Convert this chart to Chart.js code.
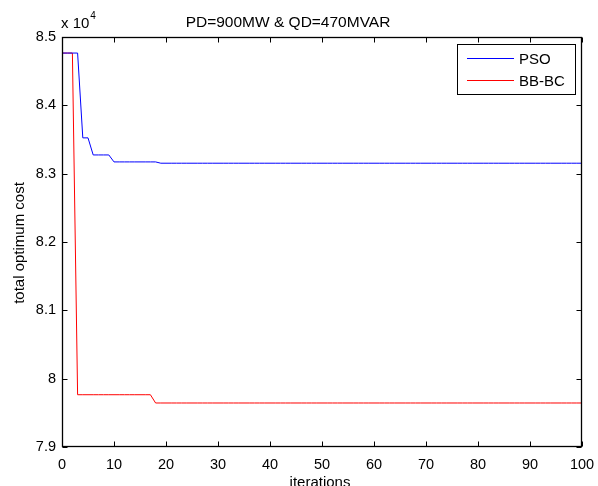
<!DOCTYPE html>
<html><head><meta charset="utf-8">
<script src="https://cdn.jsdelivr.net/npm/chart.js@4/dist/chart.umd.min.js"></script>
<style>html,body{margin:0;padding:0;background:#fff}canvas{display:block}</style>
</head><body>
<canvas id="c" width="598" height="486"></canvas>
<script>
const iterations = [
  0, 1, 2, 3, 4, 5, 6, 7, 8, 9,
  10, 11, 12, 13, 14, 15, 16, 17, 18, 19,
  20, 21, 22, 23, 24, 25, 26, 27, 28, 29,
  30, 31, 32, 33, 34, 35, 36, 37, 38, 39,
  40, 41, 42, 43, 44, 45, 46, 47, 48, 49,
  50, 51, 52, 53, 54, 55, 56, 57, 58, 59,
  60, 61, 62, 63, 64, 65, 66, 67, 68, 69,
  70, 71, 72, 73, 74, 75, 76, 77, 78, 79,
  80, 81, 82, 83, 84, 85, 86, 87, 88, 89,
  90, 91, 92, 93, 94, 95, 96, 97, 98, 99,
  100
];
// values in units of 10^4
const psoCost = [
  8.4765, 8.4765, 8.4765, 8.4765, 8.3524, 8.3524, 8.3274, 8.3274, 8.3274, 8.3274,
  8.3172, 8.3172, 8.3172, 8.3172, 8.3172, 8.3172, 8.3172, 8.3172, 8.3172, 8.3153,
  8.3153, 8.3153, 8.3153, 8.3153, 8.3153, 8.3153, 8.3153, 8.3153, 8.3153, 8.3153,
  8.3153, 8.3153, 8.3153, 8.3153, 8.3153, 8.3153, 8.3153, 8.3153, 8.3153, 8.3153,
  8.3153, 8.3153, 8.3153, 8.3153, 8.3153, 8.3153, 8.3153, 8.3153, 8.3153, 8.3153,
  8.3153, 8.3153, 8.3153, 8.3153, 8.3153, 8.3153, 8.3153, 8.3153, 8.3153, 8.3153,
  8.3153, 8.3153, 8.3153, 8.3153, 8.3153, 8.3153, 8.3153, 8.3153, 8.3153, 8.3153,
  8.3153, 8.3153, 8.3153, 8.3153, 8.3153, 8.3153, 8.3153, 8.3153, 8.3153, 8.3153,
  8.3153, 8.3153, 8.3153, 8.3153, 8.3153, 8.3153, 8.3153, 8.3153, 8.3153, 8.3153,
  8.3153, 8.3153, 8.3153, 8.3153, 8.3153, 8.3153, 8.3153, 8.3153, 8.3153, 8.3153,
  8.3153
];
const bbbcCost = [
  8.4765, 8.4765, 8.4765, 7.9765, 7.9765, 7.9765, 7.9765, 7.9765, 7.9765, 7.9765,
  7.9765, 7.9765, 7.9765, 7.9765, 7.9765, 7.9765, 7.9765, 7.9765, 7.9644, 7.9644,
  7.9644, 7.9644, 7.9644, 7.9644, 7.9644, 7.9644, 7.9644, 7.9644, 7.9644, 7.9644,
  7.9644, 7.9644, 7.9644, 7.9644, 7.9644, 7.9644, 7.9644, 7.9644, 7.9644, 7.9644,
  7.9644, 7.9644, 7.9644, 7.9644, 7.9644, 7.9644, 7.9644, 7.9644, 7.9644, 7.9644,
  7.9644, 7.9644, 7.9644, 7.9644, 7.9644, 7.9644, 7.9644, 7.9644, 7.9644, 7.9644,
  7.9644, 7.9644, 7.9644, 7.9644, 7.9644, 7.9644, 7.9644, 7.9644, 7.9644, 7.9644,
  7.9644, 7.9644, 7.9644, 7.9644, 7.9644, 7.9644, 7.9644, 7.9644, 7.9644, 7.9644,
  7.9644, 7.9644, 7.9644, 7.9644, 7.9644, 7.9644, 7.9644, 7.9644, 7.9644, 7.9644,
  7.9644, 7.9644, 7.9644, 7.9644, 7.9644, 7.9644, 7.9644, 7.9644, 7.9644, 7.9644,
  7.9644
];
const xTicks = [0, 10, 20, 30, 40, 50, 60, 70, 80, 90, 100];
const yTicks = [7.9, 8, 8.1, 8.2, 8.3, 8.4, 8.5];
const seriesNames = ['PSO', 'BB-BC'];
const seriesColors = ['#0000ff', '#ff0000'];
const titleText = 'PD=900MW & QD=470MVAR';
const xTitle = 'iterations';
const yTitle = 'total optimum cost';
const expText = 'x 10';
const expPower = '4';

const FONT = '"Liberation Sans", Arial, Helvetica, sans-serif';

function pts(ys) { return iterations.map((x, i) => ({ x: x, y: ys[i] })); }

const decor = {
  id: 'decor',
  afterDraw(chart) {
    const ctx = chart.ctx;
    const a = chart.chartArea;
    const xs = chart.scales.x, ys = chart.scales.y;
    const L = Math.round(a.left) + 0.5, R = Math.round(a.right) - 0.5;
    const T = Math.round(a.top) + 0.5, B = Math.round(a.bottom) - 0.5;
    ctx.save();
    ctx.strokeStyle = '#000';
    ctx.lineWidth = 1;
    ctx.beginPath();
    xTicks.forEach(v => {
      const px = Math.round(xs.getPixelForValue(v)) + 0.5;
      ctx.moveTo(px, B); ctx.lineTo(px, B - 5);
      ctx.moveTo(px, T); ctx.lineTo(px, T + 5);
    });
    yTicks.forEach(v => {
      const py = Math.round(ys.getPixelForValue(v)) + 0.5;
      ctx.moveTo(L, py); ctx.lineTo(L + 5, py);
      ctx.moveTo(R, py); ctx.lineTo(R - 5, py);
    });
    ctx.stroke();
    ctx.lineWidth = 1.3;
    ctx.strokeRect(L, T, R - L, B - T);

    ctx.fillStyle = '#000';
    ctx.font = '15.5px ' + FONT;
    ctx.textAlign = 'center';
    ctx.textBaseline = 'alphabetic';
    ctx.fillText(titleText, 288, 26.5);

    ctx.font = '15px ' + FONT;
    ctx.fillText(xTitle, 320, 487);

    ctx.save();
    ctx.translate(23.5, 243);
    ctx.rotate(-Math.PI / 2);
    ctx.fillText(yTitle, 0, 0);
    ctx.restore();

    ctx.textAlign = 'left';
    ctx.font = '15px ' + FONT;
    ctx.fillText(expText, 61, 28);
    const w = ctx.measureText(expText).width;
    ctx.font = '10px ' + FONT;
    ctx.fillText(expPower, 61 + w + 1, 19);

    const lx = 457.5, ly = 44.5, lw = 118, lh = 50;
    ctx.fillStyle = '#fff';
    ctx.fillRect(lx, ly, lw, lh);
    ctx.lineWidth = 1;
    ctx.strokeStyle = '#000';
    ctx.strokeRect(lx, ly, lw, lh);
    const rows = [58.5, 80.5];
    ctx.font = '15px ' + FONT;
    ctx.textBaseline = 'middle';
    seriesNames.forEach((n, i) => {
      ctx.strokeStyle = seriesColors[i];
      ctx.beginPath();
      ctx.moveTo(467, rows[i]); ctx.lineTo(514, rows[i]);
      ctx.stroke();
      ctx.fillStyle = '#000';
      ctx.fillText(n, 519, rows[i] + 1);
    });
    ctx.restore();
  }
};

new Chart(document.getElementById('c'), {
  type: 'line',
  data: {
    datasets: [
      { label: seriesNames[0], data: pts(psoCost), borderColor: seriesColors[0], borderWidth: 1, pointRadius: 0, fill: false, tension: 0 },
      { label: seriesNames[1], data: pts(bbbcCost), borderColor: seriesColors[1], borderWidth: 1, pointRadius: 0, fill: false, tension: 0 }
    ]
  },
  options: {
    responsive: false,
    animation: false,
    events: [],
    layout: { padding: { top: 37, right: 16, left: 0, bottom: 0 } },
    plugins: { legend: { display: false }, title: { display: false }, tooltip: { enabled: false } },
    scales: {
      x: {
        type: 'linear', min: 0, max: 100,
        afterBuildTicks: s => { s.ticks = xTicks.map(v => ({ value: v })); },
        afterFit: s => { s.height = 39; s.paddingLeft = 0; s.paddingRight = 0; },
        grid: { display: false, drawTicks: false },
        border: { display: false },
        ticks: { color: '#000', font: { family: FONT, size: 14.5 }, padding: 9, maxRotation: 0, autoSkip: false,
          callback: v => String(v) }
      },
      y: {
        type: 'linear', min: 7.9, max: 8.5,
        afterBuildTicks: s => { s.ticks = yTicks.map(v => ({ value: v })); },
        afterFit: s => { s.width = 62; s.paddingTop = 0; s.paddingBottom = 0; },
        grid: { display: false, drawTicks: false },
        border: { display: false },
        ticks: { color: '#000', font: { family: FONT, size: 14.5 }, padding: 6, autoSkip: false,
          callback: v => String(Number(v.toFixed(2))) }
      }
    }
  },
  plugins: [decor]
});
</script>
</body></html>
